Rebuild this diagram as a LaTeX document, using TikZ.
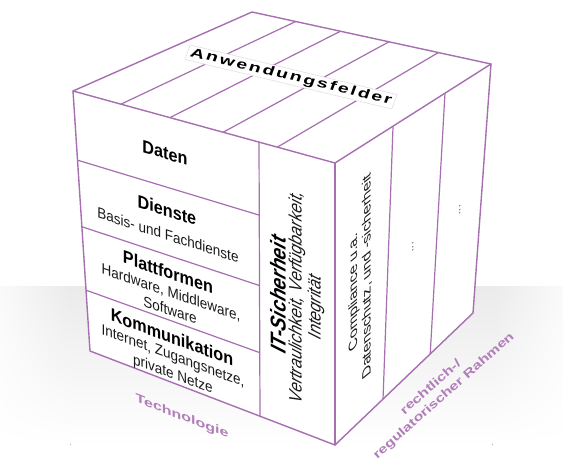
\documentclass[tikz,border=0pt]{standalone}
\usepackage{fontspec}
\setmainfont{Liberation Sans}
\newfontfamily\condfont{Liberation Sans}[FakeStretch=0.9]
\newfontfamily\widefont{Liberation Sans}[FakeStretch=1.33]
\newfontfamily\topfont{Liberation Sans}[FakeStretch=1.45,LetterSpace=16]
\usetikzlibrary{calc}
\definecolor{cubeline}{HTML}{A66FB0}
\definecolor{axislabel}{HTML}{B07EB9}
\newcommand\facelabel[4]{\begin{scope}[shift={#1}]\node[#2] (#3) at (0,0) {#4};\end{scope}}
\begin{document}
\begin{tikzpicture}[x=1pt,y=-1pt,
  edge/.style={draw=cubeline,line width=1.4pt,line join=round,line cap=round},
  inner/.style={draw=cubeline,line width=1.2pt},
  ttl/.style={inner sep=0pt,text=black,font=\condfont\bfseries\fontsize{18}{20}\selectfont},
  sub/.style={inner sep=0pt,text=black!90,font=\condfont\fontsize{15}{17}\selectfont},
  itttl/.style={inner sep=0pt,text=black,font=\condfont\bfseries\itshape\fontsize{21.5}{23}\selectfont},
  itsub/.style={inner sep=0pt,text=black!90,font=\condfont\itshape\fontsize{18}{20}\selectfont},
  rsub/.style={inner sep=0pt,text=black!90,font=\fontsize{16}{18}\selectfont},
  dots/.style={inner sep=0pt,text=black!80,font=\fontsize{12}{14}\selectfont},
  axis/.style={inner sep=0pt,text=axislabel,font=\widefont\bfseries\fontsize{12}{15}\selectfont},
  toplabel/.style={fill=white,draw=cubeline!25,line width=0.6pt,inner xsep=3pt,inner ysep=1.5pt,text=black,font=\topfont\bfseries\fontsize{13}{14}\selectfont},
  leftface/.style={cm={0,1,-1,0.33,(0,0)}},
  rightface/.style={cm={0,1,-0.75,-0.6,(0,0)}}
]
\useasboundingbox (0,0) rectangle (563,462);
% floor shadow
\fill[top color=gray!16,bottom color=white] (69,287) rectangle (494,445);
\foreach \i in {0,...,34}{
  \pgfmathsetmacro\g{4+12*(\i+0.5)/35}
  \fill[top color=gray!\g,bottom color=white] ({2*\i},287) rectangle ({2*\i+2.6},445);
  \fill[top color=gray!\g,bottom color=white] ({563-2*\i-2.6},287) rectangle ({563-2*\i},445);
}
% cube corners
\coordinate (L) at (73,91);
\coordinate (B) at (252,12);
\coordinate (R) at (491,64);
\coordinate (F) at (335,163);
\coordinate (Lb) at (90,351);
\coordinate (Fb) at (335,445);
\coordinate (Rb) at (473,313);
\coordinate (S1) at (259,142);
\coordinate (S2) at (260,417);
% faces
\fill[white] (L) -- (B) -- (R) -- (Rb) -- (Fb) -- (Lb) -- cycle;
% top strips
\foreach \t in {0.183,0.37,0.573,0.78}
  \draw[inner] ($(L)!\t!(F)$) -- ($(B)!\t!(R)$);
% left face layers
\foreach \t in {0.266,0.522,0.766}
  \draw[inner] ($(L)!\t!(Lb)$) -- ($(S1)!\t!(S2)$);
\draw[inner] (S1) -- (S2);
% right face columns
\draw[inner] ($(F)!0.372!(R)$) -- ($(Fb)!0.348!(Rb)$);
\draw[inner] ($(F)!0.705!(R)$) -- ($(Fb)!0.69!(Rb)$);
% outline
\draw[edge] (L) -- (B) -- (R) -- (Rb) -- (Fb) -- (Lb) -- cycle;
\draw[edge] (L) -- (F) -- (R);
\draw[edge] (F) -- (Fb);
% top label
\facelabel{(291,77)}{toplabel,cm={1,-0.24,0.35,0.95,(0,0)}}{anw}{Anwendungsfelder}
% left face texts
\facelabel{(165,153)}{ttl,yslant=-0.294}{daten}{Daten}
\facelabel{(167,210)}{ttl,yslant=-0.318}{dienste}{Dienste}
\facelabel{(168,235)}{sub,yslant=-0.318}{diensteSub}{Basis- und Fachdienste}
\facelabel{(168,272)}{ttl,yslant=-0.343}{plattf}{Plattformen}
\facelabel{(171,293)}{sub,yslant=-0.343}{plattfSubA}{Hardware, Middleware,}
\facelabel{(170,310)}{sub,yslant=-0.343}{plattfSubB}{Software}
\facelabel{(172,337)}{ttl,yslant=-0.372}{komm}{Kommunikation}
\facelabel{(173,357)}{sub,yslant=-0.372}{kommSubA}{Internet, Zugangsnetze,}
\facelabel{(173,375)}{sub,yslant=-0.372}{kommSubB}{private Netze}
% IT-Sicherheit slab
\facelabel{(278,294)}{itttl,leftface}{itsich}{IT-Sicherheit}
\facelabel{(297,297)}{itsub,leftface}{itsubA}{Vertraulichkeit, Verfügbarkeit,}
\facelabel{(316,307)}{itsub,leftface}{itsubB}{Integrität}
% right face texts
\facelabel{(354,292)}{rsub,rightface}{compl}{Compliance u.a.}
\facelabel{(367,276)}{rsub,rightface}{datsch}{Datenschutz, und -sicherheit}
\facelabel{(413,247)}{dots,rightface}{dotsA}{...}
\facelabel{(460,210)}{dots,rightface}{dotsB}{...}
% axis labels
\facelabel{(182,417)}{axis,yslant=-0.39}{techn}{Technologie}
\facelabel{(439,390.5)}{axis,rotate=41.5,align=center}{recht}{rechtlich-/\hspace*{8pt}\\regulatorischer Rahmen}
\end{tikzpicture}
\end{document}
